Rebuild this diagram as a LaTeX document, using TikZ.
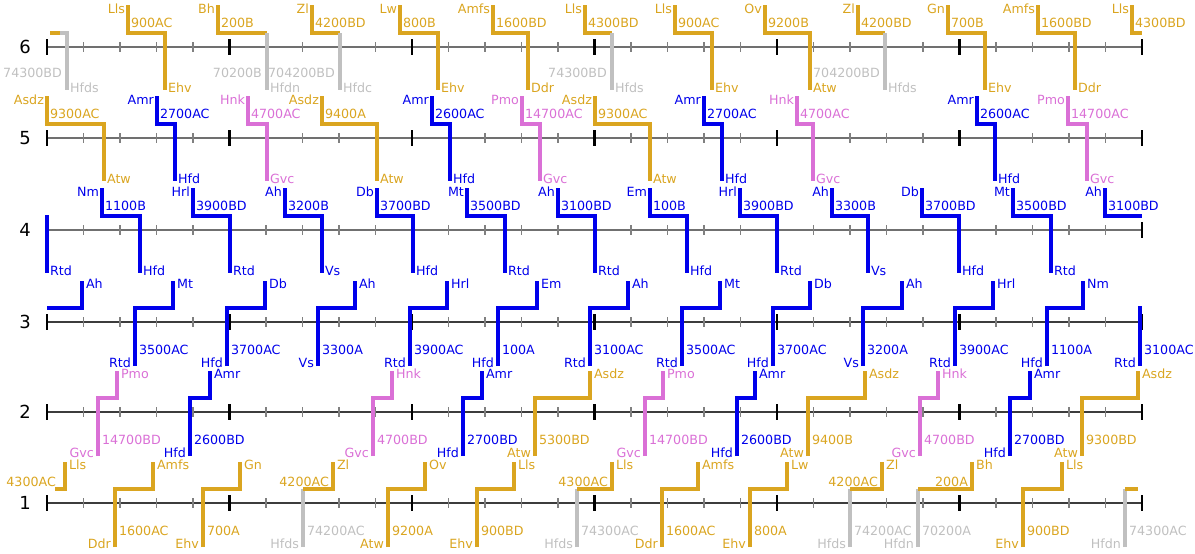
\documentclass[tikz,border=0pt]{standalone}
\usepackage{fontspec}
\setmainfont{DejaVu Sans}
\definecolor{cgold}{RGB}{218,165,32}
\definecolor{cblue}{RGB}{0,0,235}
\definecolor{corch}{RGB}{218,112,214}
\definecolor{cgray}{RGB}{192,192,192}
\definecolor{axl}{RGB}{112,112,112}
\definecolor{axd}{RGB}{60,60,60}
\tikzset{
  trk/.style={line width=3.7pt},
  lab/.style={font=\fontsize{9.5}{10}\selectfont, inner sep=0.6pt},
  rowlab/.style={font=\fontsize{13.5}{14}\selectfont, text=black},
  majtick/.style={line width=1.6pt, black},
  mintick/.style={line width=0.9pt, gray},
}
% downward path: color, x1, x2, Y, dep, num, arr, id
\newcommand{\dnpath}[8]{%
  \coordinate (#8t) at (#2,#4-42);
  \coordinate (#8h) at (#2,#4-14);
  \coordinate (#8k) at (#3,#4-14);
  \coordinate (#8b) at (#3,#4+43);
  \draw[trk,#1] (#8t) -- (#8h) -- (#8k) -- (#8b);
  \node[lab,text=#1,anchor=east] (#8d) at (#2-2,#4-38) {#5};
  \node[lab,text=#1,anchor=west] (#8n) at (#2+2,#4-24) {#6};
  \node[lab,text=#1,anchor=west] (#8a) at (#3+2,#4+41) {#7};
}
% downward gold then gray: x1, x2, Y, dep, num, graynum, grayarr, id
\newcommand{\dngg}[8]{%
  \coordinate (#8t) at (#1,#3-42);
  \coordinate (#8h) at (#1,#3-14);
  \coordinate (#8k) at (#2,#3-14);
  \coordinate (#8b) at (#2,#3+43);
  \draw[trk,cgold] (#8t) -- (#8h) -- (#8k);
  \draw[trk,cgray] (#8k) -- (#8b);
  \node[lab,text=cgold,anchor=east] (#8d) at (#1-2,#3-38) {#4};
  \node[lab,text=cgold,anchor=west] (#8n) at (#1+2,#3-24) {#5};
  \node[lab,text=cgray,anchor=east] (#8g) at (#2-4,#3+26) {#6};
  \node[lab,text=cgray,anchor=west] (#8a) at (#2+2,#3+41) {#7};
}
% upward path: color, x1, x2, Y, dep, num, arr, id
\newcommand{\uppath}[8]{%
  \coordinate (#8b) at (#2,#4+44);
  \coordinate (#8h) at (#2,#4-14);
  \coordinate (#8k) at (#3,#4-14);
  \coordinate (#8t) at (#3,#4-41);
  \draw[trk,#1] (#8b) -- (#8h) -- (#8k) -- (#8t);
  \node[lab,text=#1,anchor=east] (#8d) at (#2-3,#4+41) {#5};
  \node[lab,text=#1,anchor=west] (#8n) at (#2+3,#4+28) {#6};
  \node[lab,text=#1,anchor=west] (#8a) at (#3+3,#4-38) {#7};
}
% upward gray then gold: x1, x2, Y, graydep, graynum, goldnum, goldarr, id
\newcommand{\upgg}[8]{%
  \coordinate (#8b) at (#1,#3+44);
  \coordinate (#8h) at (#1,#3-14);
  \coordinate (#8k) at (#2,#3-14);
  \coordinate (#8t) at (#2,#3-41);
  \draw[trk,cgray] (#8b) -- (#8h);
  \draw[trk,cgold] (#8h) -- (#8k) -- (#8t);
  \node[lab,text=cgray,anchor=east] (#8d) at (#1-3,#3+41) {#4};
  \node[lab,text=cgray,anchor=west] (#8n) at (#1+3,#3+28) {#5};
  \node[lab,text=cgold,anchor=east] (#8g) at (#2-3,#3-21) {#6};
  \node[lab,text=cgold,anchor=west] (#8a) at (#2+3,#3-38) {#7};
}
\begin{document}
\begin{tikzpicture}[x=0.75pt,y=-0.75pt]
\useasboundingbox (0,0) rectangle (1195,553);
% axes
\foreach \Y/\c/\r in {47/axl/6,138/axl/5,230/axl/4,322/axd/3,412/axd/2,503/axd/1}{
  \draw[line width=1.6pt,\c] (47,\Y) -- (1142,\Y);
  \foreach \i in {0,...,30}{
    \pgfmathtruncatemacro{\m}{mod(\i,5)}
    \ifnum\m=0
      \draw[majtick] (47+\i*36.5,\Y-8) -- (47+\i*36.5,\Y+8);
    \else
      \draw[mintick] (47+\i*36.5,\Y-5) -- (47+\i*36.5,\Y+5);
    \fi
  }
  \node[rowlab] (row\r) at (25,\Y) {\r};
}
% ---------------- row 6
\coordinate (r6s1) at (50,33);
\coordinate (r6s2) at (60,33);
\coordinate (r6s3) at (67,33);
\coordinate (r6s4) at (67,90);
\draw[trk,cgold] (r6s1) -- (r6s2);
\draw[trk,cgray] (r6s2) -- (r6s3) -- (r6s4);
\node[lab,text=cgray,anchor=east] (r6sg) at (63,73) {74300BD};
\node[lab,text=cgray,anchor=west] (r6sa) at (69,88) {Hfds};
\dnpath{cgold}{128}{165}{47}{Lls}{900AC}{Ehv}{r6a}
\dngg{218}{267}{47}{Bh}{200B}{70200B}{Hfdn}{r6b}
\dngg{312}{340}{47}{Zl}{4200BD}{704200BD}{Hfdc}{r6c}
\dnpath{cgold}{400}{438}{47}{Lw}{800B}{Ehv}{r6d}
\dnpath{cgold}{493}{528}{47}{Amfs}{1600BD}{Ddr}{r6e}
\dngg{585}{612}{47}{Lls}{4300BD}{74300BD}{Hfds}{r6f}
\dnpath{cgold}{675}{712}{47}{Lls}{900AC}{Ehv}{r6g}
\dnpath{cgold}{765}{810}{47}{Ov}{9200B}{Atw}{r6h}
\dngg{858}{885}{47}{Zl}{4200BD}{704200BD}{Hfds}{r6i}
\dnpath{cgold}{948}{985}{47}{Gn}{700B}{Ehv}{r6j}
\dnpath{cgold}{1038}{1075}{47}{Amfs}{1600BD}{Ddr}{r6k}
\coordinate (r6e1) at (1132,5);
\coordinate (r6e2) at (1132,33);
\coordinate (r6e3) at (1142,33);
\draw[trk,cgold] (r6e1) -- (r6e2) -- (r6e3);
\node[lab,text=cgold,anchor=east] (r6ed) at (1130,9) {Lls};
\node[lab,text=cgold,anchor=west] (r6en) at (1134,23) {4300BD};
% ---------------- row 5
\dnpath{cgold}{47}{104}{138}{Asdz}{9300AC}{Atw}{r5a}
\dnpath{cblue}{157}{175}{138}{Amr}{2700AC}{Hfd}{r5b}
\dnpath{corch}{248}{267}{138}{Hnk}{4700AC}{Gvc}{r5c}
\dnpath{cgold}{322}{377}{138}{Asdz}{9400A}{Atw}{r5d}
\dnpath{cblue}{432}{450}{138}{Amr}{2600AC}{Hfd}{r5e}
\dnpath{corch}{522}{540}{138}{Pmo}{14700AC}{Gvc}{r5f}
\dnpath{cgold}{595}{650}{138}{Asdz}{9300AC}{Atw}{r5g}
\dnpath{cblue}{704}{722}{138}{Amr}{2700AC}{Hfd}{r5h}
\dnpath{corch}{797}{813}{138}{Hnk}{4700AC}{Gvc}{r5i}
\dnpath{cblue}{977}{995}{138}{Amr}{2600AC}{Hfd}{r5j}
\dnpath{corch}{1068}{1087}{138}{Pmo}{14700AC}{Gvc}{r5k}
% ---------------- row 4
\coordinate (r4s1) at (47,215);
\coordinate (r4s2) at (47,273);
\draw[trk,cblue] (r4s1) -- (r4s2);
\node[lab,text=cblue,anchor=west] (r4sa) at (49,271) {Rtd};
\dnpath{cblue}{102}{140}{230}{Nm}{1100B}{Hfd}{r4a}
\dnpath{cblue}{193}{230}{230}{Hrl}{3900BD}{Rtd}{r4b}
\dnpath{cblue}{285}{322}{230}{Ah}{3200B}{Vs}{r4c}
\dnpath{cblue}{377}{413}{230}{Db}{3700BD}{Hfd}{r4d}
\dnpath{cblue}{467}{505}{230}{Mt}{3500BD}{Rtd}{r4e}
\dnpath{cblue}{558}{595}{230}{Ah}{3100BD}{Rtd}{r4f}
\dnpath{cblue}{650}{687}{230}{Em}{100B}{Hfd}{r4g}
\dnpath{cblue}{740}{777}{230}{Hrl}{3900BD}{Rtd}{r4h}
\dnpath{cblue}{832}{868}{230}{Ah}{3300B}{Vs}{r4i}
\dnpath{cblue}{922}{959}{230}{Db}{3700BD}{Hfd}{r4j}
\dnpath{cblue}{1013}{1051}{230}{Mt}{3500BD}{Rtd}{r4k}
\coordinate (r4e1) at (1105,188);
\coordinate (r4e2) at (1105,216);
\coordinate (r4e3) at (1142,216);
\draw[trk,cblue] (r4e1) -- (r4e2) -- (r4e3);
\node[lab,text=cblue,anchor=east] (r4ed) at (1103,192) {Ah};
\node[lab,text=cblue,anchor=west] (r4en) at (1107,206) {3100BD};
% ---------------- row 3
\coordinate (r3s1) at (47,308);
\coordinate (r3s2) at (82,308);
\coordinate (r3s3) at (82,281);
\draw[trk,cblue] (r3s1) -- (r3s2) -- (r3s3);
\node[lab,text=cblue,anchor=west] (r3sa) at (85,284) {Ah};
\uppath{cblue}{135}{173}{322}{Rtd}{3500AC}{Mt}{r3a}
\uppath{cblue}{227}{265}{322}{Hfd}{3700AC}{Db}{r3b}
\uppath{cblue}{318}{355}{322}{Vs}{3300A}{Ah}{r3c}
\uppath{cblue}{410}{447}{322}{Rtd}{3900AC}{Hrl}{r3d}
\uppath{cblue}{498}{537}{322}{Hfd}{100A}{Em}{r3e}
\uppath{cblue}{590}{628}{322}{Rtd}{3100AC}{Ah}{r3f}
\uppath{cblue}{682}{720}{322}{Rtd}{3500AC}{Mt}{r3g}
\uppath{cblue}{773}{810}{322}{Hfd}{3700AC}{Db}{r3h}
\uppath{cblue}{863}{902}{322}{Vs}{3200A}{Ah}{r3i}
\uppath{cblue}{955}{993}{322}{Rtd}{3900AC}{Hrl}{r3j}
\uppath{cblue}{1047}{1083}{322}{Hfd}{1100A}{Nm}{r3k}
\coordinate (r3e1) at (1140,366);
\coordinate (r3e2) at (1140,306);
\draw[trk,cblue] (r3e1) -- (r3e2);
\node[lab,text=cblue,anchor=east] (r3ed) at (1137,363) {Rtd};
\node[lab,text=cblue,anchor=west] (r3en) at (1143,350) {3100AC};
% ---------------- row 2
\uppath{corch}{98}{117}{412}{Gvc}{14700BD}{Pmo}{r2a}
\uppath{cblue}{190}{210}{412}{Hfd}{2600BD}{Amr}{r2b}
\uppath{corch}{373}{392}{412}{Gvc}{4700BD}{Hnk}{r2c}
\uppath{cblue}{463}{482}{412}{Hfd}{2700BD}{Amr}{r2d}
\uppath{cgold}{535}{590}{412}{Atw}{5300BD}{Asdz}{r2e}
\uppath{corch}{645}{663}{412}{Gvc}{14700BD}{Pmo}{r2f}
\uppath{cblue}{737}{755}{412}{Hfd}{2600BD}{Amr}{r2g}
\uppath{cgold}{808}{865}{412}{Atw}{9400B}{Asdz}{r2h}
\uppath{corch}{920}{938}{412}{Gvc}{4700BD}{Hnk}{r2i}
\uppath{cblue}{1010}{1030}{412}{Hfd}{2700BD}{Amr}{r2j}
\uppath{cgold}{1082}{1138}{412}{Atw}{9300BD}{Asdz}{r2k}
% ---------------- row 1
\coordinate (r1s1) at (55,489);
\coordinate (r1s2) at (65,489);
\coordinate (r1s3) at (65,462);
\draw[trk,cgold] (r1s1) -- (r1s2) -- (r1s3);
\node[lab,text=cgold,anchor=east] (r1sg) at (57,482) {4300AC};
\node[lab,text=cgold,anchor=west] (r1sa) at (68,465) {Lls};
\uppath{cgold}{115}{153}{503}{Ddr}{1600AC}{Amfs}{r1a}
\uppath{cgold}{203}{240}{503}{Ehv}{700A}{Gn}{r1b}
\upgg{303}{333}{503}{Hfds}{74200AC}{4200AC}{Zl}{r1c}
\uppath{cgold}{388}{425}{503}{Atw}{9200A}{Ov}{r1d}
\uppath{cgold}{477}{514}{503}{Ehv}{900BD}{Lls}{r1e}
\upgg{577}{612}{503}{Hfds}{74300AC}{4300AC}{Lls}{r1f}
\uppath{cgold}{662}{698}{503}{Ddr}{1600AC}{Amfs}{r1g}
\uppath{cgold}{750}{787}{503}{Ehv}{800A}{Lw}{r1h}
\upgg{850}{882}{503}{Hfds}{74200AC}{4200AC}{Zl}{r1i}
\upgg{918}{972}{503}{Hfdn}{70200A}{200A}{Bh}{r1j}
\uppath{cgold}{1023}{1062}{503}{Ehv}{900BD}{Lls}{r1k}
\coordinate (r1e1) at (1125,547);
\coordinate (r1e2) at (1125,489);
\coordinate (r1e3) at (1138,489);
\draw[trk,cgray] (r1e1) -- (r1e2);
\draw[trk,cgold] (r1e2) -- (r1e3);
\node[lab,text=cgray,anchor=east] (r1ed) at (1122,544) {Hfdn};
\node[lab,text=cgray,anchor=west] (r1en) at (1128,531) {74300AC};
\end{tikzpicture}
\end{document}
